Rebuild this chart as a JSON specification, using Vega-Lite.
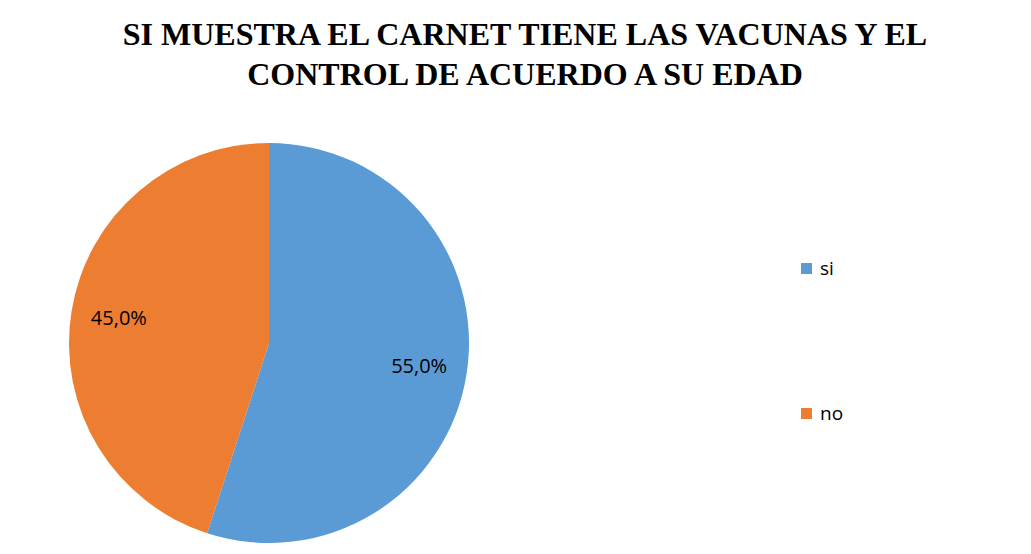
{
  "$schema": "https://vega.github.io/schema/vega-lite/v6.json",
  "width": 522,
  "height": 400,
  "autosize": {"type": "none"},
  "padding": {"left": 8, "top": 143, "right": 501, "bottom": 11},
  "background": "white",
  "config": {
    "view": {"stroke": null},
    "locale": {"number": {"decimal": ",", "thousands": ".", "grouping": [3], "currency": ["", " €"]}}
  },
  "title": {
    "text": ["SI MUESTRA EL CARNET TIENE LAS VACUNAS Y EL", "CONTROL DE ACUERDO A SU EDAD"],
    "font": "Liberation Serif",
    "fontSize": 32,
    "fontWeight": "bold",
    "color": "#000000",
    "anchor": "middle",
    "frame": "group",
    "baseline": "alphabetic",
    "lineHeight": 40,
    "dx": 256,
    "offset": 26
  },
  "data": {
    "values": [
      {"respuesta": "si", "porcentaje": 0.55},
      {"respuesta": "no", "porcentaje": 0.45}
    ]
  },
  "encoding": {
    "theta": {"field": "porcentaje", "type": "quantitative", "stack": true},
    "order": {"field": "respuesta", "sort": "descending"}
  },
  "layer": [
    {
      "mark": {"type": "arc", "outerRadius": 200},
      "encoding": {
        "color": {
          "field": "respuesta",
          "type": "nominal",
          "sort": ["si", "no"],
          "scale": {"domain": ["si", "no"], "range": ["#5B9BD5", "#ED7D31"]},
          "legend": {
            "title": null,
            "orient": "none",
            "legendX": 789,
            "legendY": 116,
            "symbolType": "square",
            "symbolSize": 121,
            "symbolStrokeWidth": 0,
            "labelFont": "Open Sans",
            "labelFontSize": 19,
            "labelColor": "#000000",
            "rowPadding": 125,
            "labelOffset": 4
          }
        }
      }
    },
    {
      "mark": {"type": "text", "radius": 152, "font": "Open Sans", "fontSize": 20, "color": "#000000"},
      "encoding": {
        "detail": {"field": "respuesta", "type": "nominal"},
        "text": {"field": "porcentaje", "type": "quantitative", "format": ".1%"}
      }
    }
  ]
}
